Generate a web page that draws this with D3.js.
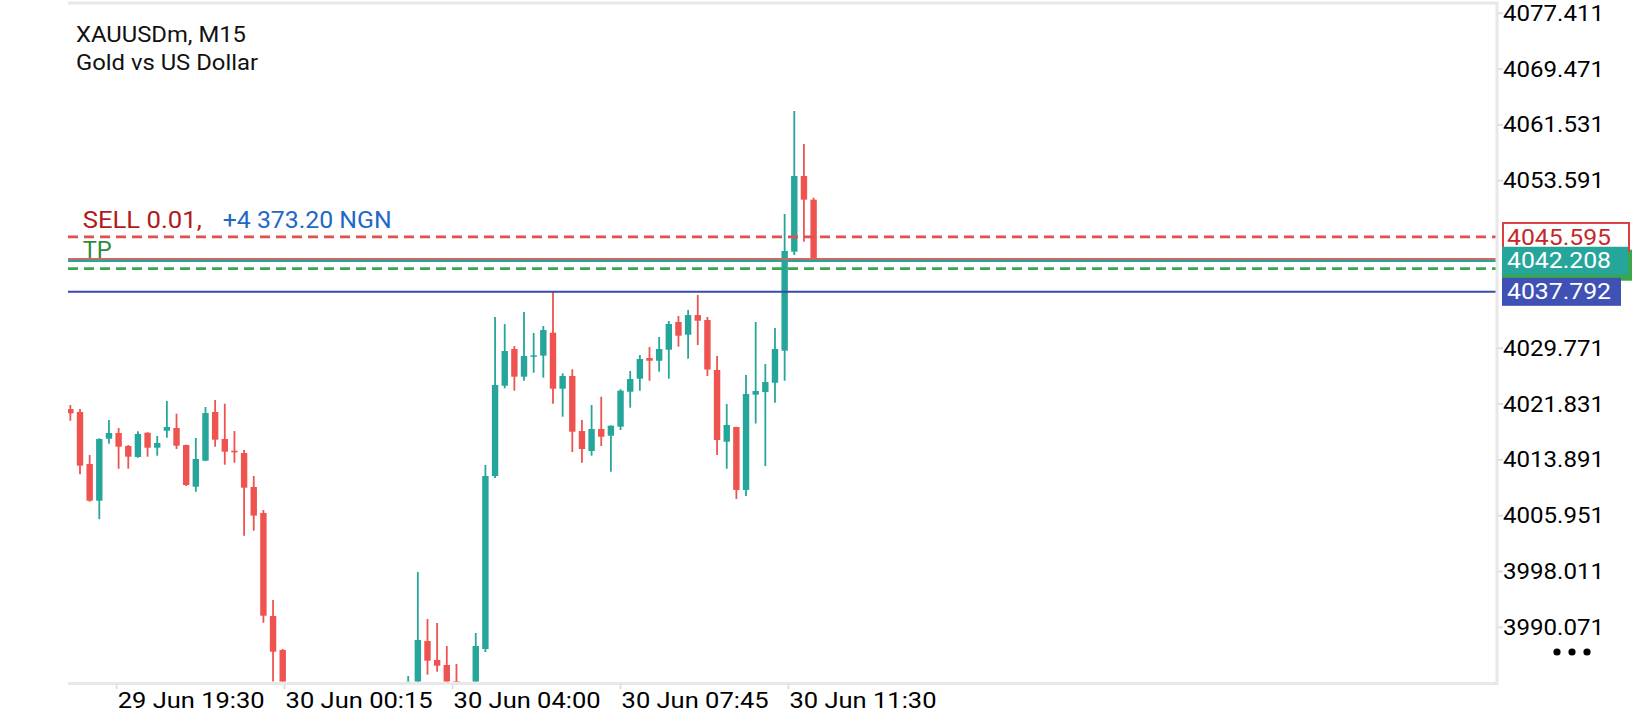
<!DOCTYPE html>
<html><head><meta charset="utf-8">
<script src="https://cdn.jsdelivr.net/npm/d3@7"></script>
<style>html,body{margin:0;padding:0;background:#fff;}svg{display:block;font-family:Roboto,"Noto Sans",sans-serif;}</style>
</head><body><svg id="chart" width="1640" height="720"></svg>
<script>
// ---- data ----
const symbolTitle = "XAUUSDm, M15";
const symbolDesc = "Gold vs US Dollar";
const opens = [4021.12,4020.70,4013.30,4008.08,4016.90,4017.71,4015.86,4014.30,4017.75,4015.62,4018.04,4018.42,4016.00,4010.07,4013.77,4020.70,4016.86,4015.19,4014.86,4010.03,4006.33,3991.68,3986.84,3978.9,3975.2,3972.4,3974.8,3972.1,3975.5,3977.8,3976.0,3978.9,3977.4,3979.6,3978.3,3980.8,3979.8,3988.12,3985.42,3984.71,3982.43,3979.6,3979.0,3986.98,4011.59,4024.44,4029.66,4025.72,4028.56,4028.71,4031.98,4024.01,4025.82,4017.99,4015.15,4018.28,4017.32,4018.61,4023.58,4025.43,4028.38,4027.99,4029.56,4033.50,4031.69,4034.49,4033.78,4026.67,4016.47,4018.56,4009.60,4023.16,4023.54,4024.86,4029.42,4043.50,4054.27,4050.90];
const highs = [4021.69,4021.12,4014.58,4016.96,4019.56,4018.42,4016.00,4017.95,4017.81,4017.28,4022.26,4020.45,4016.05,4017.00,4021.41,4022.40,4021.88,4017.99,4015.29,4011.59,4006.76,3993.95,3986.98,3980.6,3977.0,3975.9,3978.2,3976.3,3979.4,3980.2,3979.7,3981.1,3980.4,3981.5,3981.2,3983.14,3997.94,3991.25,3990.68,3987.41,3984.85,3981.6,3989.26,4013.16,4034.21,4033.21,4030.08,4034.92,4031.93,4032.93,4037.77,4026.20,4026.77,4019.56,4021.69,4022.87,4018.80,4023.93,4026.53,4028.80,4029.94,4031.37,4033.64,4034.35,4035.21,4037.34,4034.21,4028.66,4021.83,4018.60,4025.96,4033.50,4027.52,4032.65,4048.86,4063.51,4058.82,4051.18];
const lows = [4019.46,4011.83,4007.94,4005.43,4016.19,4012.63,4012.63,4014.20,4014.34,4014.48,4017.04,4015.43,4010.17,4009.36,4013.70,4015.76,4013.20,4013.48,4003.10,4003.81,3990.72,3980.5,3976.2,3973.5,3970.8,3969.6,3971.0,3968.2,3973.9,3974.6,3973.2,3975.8,3974.5,3976.9,3976.4,3979.6,3978.9,3983.33,3983.75,3980.9,3977.8,3976.1,3977.5,3986.56,4011.31,4024.07,4023.73,4025.15,4026.29,4025.58,4021.88,4020.03,4015.01,4013.48,4014.48,4015.86,4012.20,4018.14,4021.31,4023.73,4025.15,4026.43,4025.43,4029.99,4028.28,4030.23,4025.82,4014.58,4012.63,4008.32,4008.75,4019.06,4013.01,4022.02,4025.15,4043.03,4044.92,4042.15];
const closes = [4020.51,4013.06,4008.08,4016.86,4017.71,4015.76,4014.34,4017.57,4015.62,4016.29,4018.56,4015.90,4010.31,4014.01,4020.55,4016.76,4015.05,4014.96,4009.93,4005.95,3991.72,3986.60,3978.9,3975.2,3972.4,3974.8,3972.1,3975.5,3977.8,3976.0,3978.9,3977.4,3979.6,3978.3,3980.8,3982.33,3988.26,3985.32,3984.61,3982.00,3979.6,3978.4,3987.41,4011.59,4024.54,4029.37,4025.72,4028.66,4028.76,4032.36,4024.01,4025.82,4017.89,4015.43,4018.28,4017.18,4018.75,4023.73,4025.39,4028.24,4027.99,4029.66,4033.21,4031.55,4034.49,4033.68,4026.74,4016.71,4018.85,4009.60,4023.26,4023.68,4024.96,4029.66,4043.60,4054.27,4050.90,4042.208];
const yTickValues = [4077.411,4069.471,4061.531,4053.591,4029.771,4021.831,4013.891,4005.951,3998.011,3990.071];
const xTickBars = [4.8,22.2,39.6,57.0,74.4];
const xTickLabels = ["29 Jun 19:30","30 Jun 00:15","30 Jun 04:00","30 Jun 07:45","30 Jun 11:30"];
const sellPrice = 4045.595;
const askPrice = 4042.46;
const bidPrice = 4042.208;
const tpPrice = 4041.08;
const levelPrice = 4037.792;
const orderLabel = "SELL 0.01,";
const profitLabel = "+4 373.20 NGN";
const tpLabel = "TP";

// ---- layout ----
const svg = d3.select("#chart");
const L = 68, R = 1497, T = 3, B = 683;
const x = d3.scaleLinear().domain([0, opens.length - 1]).range([70.35, 813.6]);
const y = d3.scaleLinear().domain([3990.071, 4077.411]).range([627.3, 13.3]);
const fmt = d3.format(".3f");
const UP = "#26a69a", DN = "#ef5350";

svg.append("rect").attr("width",1640).attr("height",720).attr("fill","#fff");
svg.append("defs").append("clipPath").attr("id","plotclip")
  .append("rect").attr("x",L).attr("y",T+1.5).attr("width",R-L-1.5).attr("height",B-T-3);

// frame
svg.append("path").attr("d",`M${L},${T}H${R}V${B+0.5}H${L}`)
  .attr("fill","none").attr("stroke","#e8e8e8").attr("stroke-width",3);

// y ticks
const yAxis = svg.append("g");
yAxis.selectAll("line").data(yTickValues).join("line")
  .attr("x1",R).attr("x2",R+6).attr("y1",d=>y(d)).attr("y2",d=>y(d))
  .attr("stroke","#e0e0e0").attr("stroke-width",2);
yAxis.selectAll("text").data(yTickValues).join("text")
  .attr("x",R+6).attr("y",d=>y(d)+7.5)
  .attr("font-size",22).attr("fill","#000")
  .attr("textLength",101).attr("lengthAdjust","spacingAndGlyphs")
  .text(d=>fmt(d));

// x ticks
const xAxis = svg.append("g");
xAxis.selectAll("line").data(xTickBars).join("line")
  .attr("x1",d=>x(d)).attr("x2",d=>x(d)).attr("y1",B+1).attr("y2",B+6)
  .attr("stroke","#e0e0e0").attr("stroke-width",2);
xAxis.selectAll("text").data(xTickBars).join("text")
  .attr("x",d=>x(d)+1).attr("y",708)
  .attr("font-size",22).attr("fill","#000")
  .attr("textLength",147).attr("lengthAdjust","spacingAndGlyphs")
  .text((d,i)=>xTickLabels[i]);

// candles
const bars = opens.map((o,i)=>({i,o,h:highs[i],l:lows[i],c:closes[i]}));
const cg = svg.append("g").attr("clip-path","url(#plotclip)");
const bw = 6.4;
cg.selectAll("line.wick").data(bars).join("line").attr("class","wick")
  .attr("x1",d=>x(d.i)).attr("x2",d=>x(d.i))
  .attr("y1",d=>y(d.h)).attr("y2",d=>y(d.l))
  .attr("stroke",d=>d.c>=d.o?UP:DN).attr("stroke-width",1.8);
cg.selectAll("rect.body").data(bars).join("rect").attr("class","body")
  .attr("x",d=>x(d.i)-bw/2).attr("width",bw)
  .attr("y",d=>y(Math.max(d.o,d.c)))
  .attr("height",d=>Math.max(1.5, Math.abs(y(d.o)-y(d.c))))
  .attr("fill",d=>d.c>=d.o?UP:DN);

// price lines
const lg = svg.append("g");
function hline(p, color, w, dash){
  lg.append("line").attr("x1",L).attr("x2",R-1.5).attr("y1",y(p)).attr("y2",y(p))
    .attr("stroke",color).attr("stroke-width",w).attr("stroke-dasharray",dash||null);
}
hline(sellPrice,"#e0504d",2.8,"10,6");
hline(askPrice,"#e0605c",2.2);
hline(bidPrice,"#26a69a",2.2);
hline(tpPrice,"#3aa84a",2.8,"10,6");
hline(levelPrice,"#3949ab",2);

// line labels
svg.append("text").attr("x",82.7).attr("y",228.3).attr("font-size",23).attr("fill","#b3191c")
  .attr("textLength",119).attr("lengthAdjust","spacingAndGlyphs").text(orderLabel);
svg.append("text").attr("x",222.7).attr("y",228.3).attr("font-size",23).attr("fill","#1f68c8")
  .attr("textLength",169).attr("lengthAdjust","spacingAndGlyphs").text(profitLabel);
svg.append("text").attr("x",82.7).attr("y",257.5).attr("font-size",23).attr("fill","#2e8b3a")
  .attr("textLength",29).attr("lengthAdjust","spacingAndGlyphs").text(tpLabel);

// price boxes
const bx = 1502, bh = 28;
// TP marker strip (mostly hidden behind bid/level boxes)
svg.append("rect").attr("x",bx).attr("y",y(tpPrice)-bh/2-5).attr("width",130).attr("height",bh+3)
  .attr("fill","#3aa84a");
function box(p, w, fill, stroke, txtColor, label){
  svg.append("rect").attr("x",bx+(stroke?1:0)).attr("y",y(p)-bh/2).attr("width",w).attr("height",bh)
    .attr("fill",fill).attr("stroke",stroke||"none").attr("stroke-width",stroke?2:0);
  svg.append("text").attr("x",bx+5).attr("y",y(p)+7.6).attr("font-size",22).attr("fill",txtColor)
    .attr("textLength",104).attr("lengthAdjust","spacingAndGlyphs").text(label);
}
box(sellPrice,126,"#fff","#d9403e","#c62828",fmt(sellPrice));
box(bidPrice,126,"#26a69a",null,"#fff",fmt(bidPrice));
box(levelPrice,119,"#3f51b5",null,"#fff",fmt(levelPrice));

// title
svg.append("text").attr("x",76).attr("y",42).attr("font-size",22).attr("fill","#111")
  .attr("textLength",170).attr("lengthAdjust","spacingAndGlyphs").text(symbolTitle);
svg.append("text").attr("x",76).attr("y",69.5).attr("font-size",22).attr("fill","#111")
  .attr("textLength",182).attr("lengthAdjust","spacingAndGlyphs").text(symbolDesc);

// menu dots
svg.append("g").selectAll("circle").data([0,1,2]).join("circle")
  .attr("cx",d=>1557+d*15).attr("cy",652).attr("r",3.6).attr("fill","#000");
</script></body></html>
